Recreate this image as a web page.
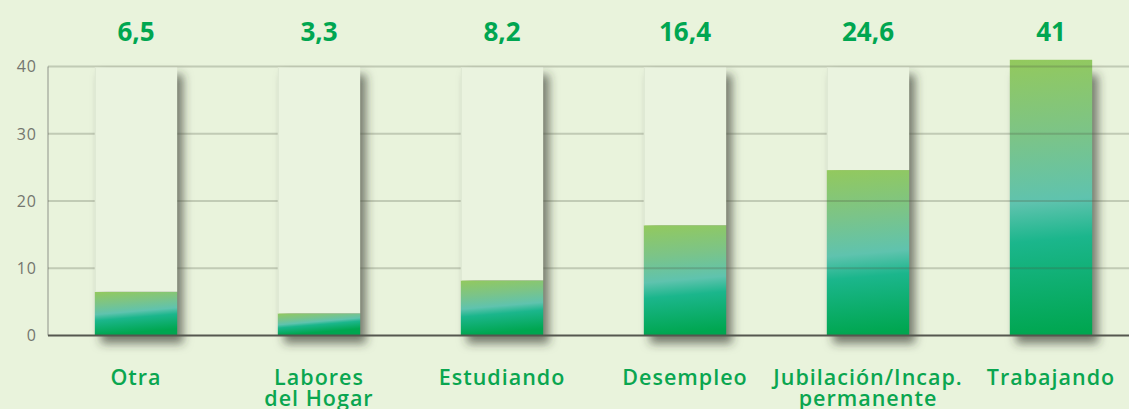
<!DOCTYPE html>
<html>
<head>
<meta charset="utf-8">
<script src="https://cdn.jsdelivr.net/npm/d3@7"></script>
<style>
  body { margin: 0; background: #e9f3dc; }
  svg { display: block; font-family: 'Open Sans', sans-serif; }
</style>
</head>
<body>
<div id="chart"></div>
<script>
const categories = ['Otra', 'Labores\ndel Hogar', 'Estudiando', 'Desempleo', 'Jubilación/Incap.\npermanente', 'Trabajando']
const values = [6.5, 3.3, 8.2, 16.4, 24.6, 41]
const valueLabels = ['6,5', '3,3', '8,2', '16,4', '24,6', '41']
const yTicks = [0, 10, 20, 30, 40]

const width = 1129
const height = 409
const axisLeft = 48

const svg = d3
  .select('#chart')
  .append('svg')
  .attr('width', width)
  .attr('height', height)

svg.append('rect').attr('width', width).attr('height', height).attr('fill', '#e9f3dc')

const xPositionScale = d3
  .scaleBand()
  .domain(categories)
  .range([44.5, 1142.5])
  .paddingInner(0.55)
  .paddingOuter(0.275)

const yPositionScale = d3
  .scaleLinear()
  .domain([0, 40])
  .range([335.5, 66.5])

const bars = categories.map((c, i) => ({ id: i, category: c, value: values[i], label: valueLabels[i] }))

const defs = svg.append('defs')

// one gradient per bar, colour bands rise ~7px across the bar
bars.forEach(d => {
  const x0 = xPositionScale(d.category)
  const h = yPositionScale(0) - yPositionScale(d.value)
  const grad = defs
    .append('linearGradient')
    .attr('id', 'bar-grad-' + d.id)
    .attr('gradientUnits', 'userSpaceOnUse')
    .attr('x1', x0)
    .attr('y1', yPositionScale(d.value))
    .attr('x2', x0 + (7 * h) / xPositionScale.bandwidth())
    .attr('y2', yPositionScale(0))
  grad.append('stop').attr('offset', '0%').attr('stop-color', '#93c95d')
  grad.append('stop').attr('offset', '28%').attr('stop-color', '#7cc487')
  grad.append('stop').attr('offset', '52%').attr('stop-color', '#5fc3ae')
  grad.append('stop').attr('offset', '66%').attr('stop-color', '#1bb68c')
  grad.append('stop').attr('offset', '100%').attr('stop-color', '#00a650')
})

const shadow = defs
  .append('filter')
  .attr('id', 'shadow')
  .attr('x', '-30%')
  .attr('y', '-20%')
  .attr('width', '160%')
  .attr('height', '140%')
shadow.append('feGaussianBlur').attr('in', 'SourceAlpha').attr('stdDeviation', 5)
shadow.append('feOffset').attr('dx', 6).attr('dy', 8).attr('result', 'off')
shadow.append('feFlood').attr('flood-color', '#2f332a').attr('flood-opacity', 0.62)
shadow.append('feComposite').attr('in2', 'off').attr('operator', 'in')

// shadows behind the full columns
svg
  .selectAll('.shadow')
  .data(bars)
  .enter()
  .append('rect')
  .attr('class', 'shadow')
  .attr('x', d => xPositionScale(d.category))
  .attr('y', yPositionScale(40))
  .attr('width', xPositionScale.bandwidth())
  .attr('height', yPositionScale(0) - yPositionScale(40))
  .attr('fill', '#000')
  .attr('filter', 'url(#shadow)')

// y axis line
svg
  .append('line')
  .attr('x1', axisLeft)
  .attr('x2', axisLeft)
  .attr('y1', yPositionScale(40))
  .attr('y2', yPositionScale(0))
  .attr('stroke', '#bcc3b3')
  .attr('stroke-width', 2)

// coloured bars
svg
  .selectAll('.bar')
  .data(bars)
  .enter()
  .append('rect')
  .attr('class', 'bar')
  .attr('x', d => xPositionScale(d.category))
  .attr('y', d => yPositionScale(d.value))
  .attr('width', xPositionScale.bandwidth())
  .attr('height', d => yPositionScale(0) - yPositionScale(d.value))
  .attr('fill', d => 'url(#bar-grad-' + d.id + ')')

// grid lines
svg
  .selectAll('.grid')
  .data(yTicks.filter(d => d > 0))
  .enter()
  .append('line')
  .attr('class', 'grid')
  .attr('x1', axisLeft)
  .attr('x2', width)
  .attr('y1', d => yPositionScale(d))
  .attr('y2', d => yPositionScale(d))
  .attr('stroke', '#4a5540')
  .attr('stroke-opacity', 0.25)
  .attr('stroke-width', 2)

// light empty part of each column
svg
  .selectAll('.column')
  .data(bars.filter(d => d.value < 40))
  .enter()
  .append('rect')
  .attr('class', 'column')
  .attr('x', d => xPositionScale(d.category))
  .attr('y', yPositionScale(40) + 1)
  .attr('width', xPositionScale.bandwidth())
  .attr('height', d => yPositionScale(d.value) - yPositionScale(40) - 1)
  .attr('fill', '#eaf3df')

svg
  .selectAll('.column-edge')
  .data(bars.filter(d => d.value < 40))
  .enter()
  .append('line')
  .attr('class', 'column-edge')
  .attr('x1', d => xPositionScale(d.category) + 0.5)
  .attr('x2', d => xPositionScale(d.category) + 0.5)
  .attr('y1', yPositionScale(40) + 1)
  .attr('y2', d => yPositionScale(d.value))
  .attr('stroke', '#dde7d2')

// baseline
svg
  .append('line')
  .attr('x1', axisLeft)
  .attr('x2', width)
  .attr('y1', yPositionScale(0))
  .attr('y2', yPositionScale(0))
  .attr('stroke', '#55574f')
  .attr('stroke-width', 2)

// tick labels
svg
  .selectAll('.tick-label')
  .data(yTicks)
  .enter()
  .append('text')
  .attr('class', 'tick-label')
  .text(d => d)
  .attr('x', 37)
  .attr('y', d => yPositionScale(d))
  .attr('dy', '0.36em')
  .attr('text-anchor', 'end')
  .attr('fill', '#74766f')
  .style('font-size', '16px')
  .style('font-weight', 500)
  .style('letter-spacing', '1px')

// value labels
svg
  .selectAll('.value-label')
  .data(bars)
  .enter()
  .append('text')
  .attr('class', 'value-label')
  .text(d => d.label)
  .attr('x', d => xPositionScale(d.category) + xPositionScale.bandwidth() / 2)
  .attr('y', 41)
  .attr('text-anchor', 'middle')
  .attr('fill', '#00a651')
  .style('font-size', '26px')
  .style('font-weight', 700)

// category labels
const catLabels = svg
  .selectAll('.cat-label')
  .data(bars)
  .enter()
  .append('text')
  .attr('class', 'cat-label')
  .attr('x', d => xPositionScale(d.category) + xPositionScale.bandwidth() / 2)
  .attr('y', 385)
  .attr('text-anchor', 'middle')
  .attr('fill', '#0aa650')
  .style('font-size', '21.5px')
  .style('font-weight', 600)
  .style('letter-spacing', '1px')

catLabels
  .selectAll('tspan')
  .data(d => d.category.split('\n').map(t => ({ text: t, x: xPositionScale(d.category) + xPositionScale.bandwidth() / 2 })))
  .enter()
  .append('tspan')
  .attr('x', d => d.x)
  .attr('dy', (d, i) => (i === 0 ? 0 : 21))
  .text(d => d.text)
</script>
</body>
</html>
